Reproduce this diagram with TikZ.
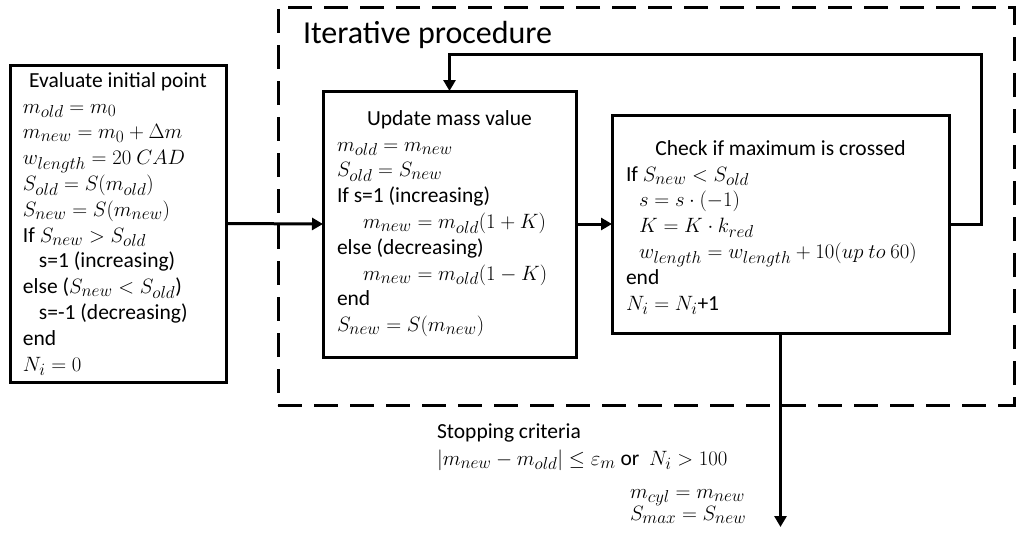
\documentclass[tikz,border=0pt]{standalone}
\usepackage{fontspec}
\setmainfont{Carlito}
\DeclareMathSizes{21.5}{22.8}{16}{12}
\usetikzlibrary{arrows.meta}
\newcommand\bodylines[1]{\vtop{\baselineskip=25.8pt\lineskiplimit=-100pt\lineskip=0pt #1}}
\newcommand\stoplines[2]{\vtop{\baselineskip=#1\lineskiplimit=-100pt\lineskip=0pt #2}}
\begin{document}
\begin{tikzpicture}[x=1pt,y=-1pt,
  every node/.style={font=\fontsize{21.5}{25.8}\selectfont, inner sep=0pt, outer sep=0pt},
  box/.style={draw, line width=3pt, rectangle},
  grp/.style={draw, line width=3pt, rectangle, dash pattern=on 24pt off 12pt},
  arr/.style={line width=3pt, -{Triangle[length=11pt,width=12pt]}},
  ttl/.style={anchor=base},
  body/.style={anchor=base west, align=left}]
\useasboundingbox (0,0) rectangle (1019,538);

% group box
\node[grp, minimum width=736pt, minimum height=398pt] (iter) at (646,206) {};
\node[anchor=base west, font=\fontsize{32}{38}\selectfont] (iterT) at (303,43) {Iterative procedure};

% boxes
\node[box, minimum width=216pt, minimum height=317pt] (init) at (118,223.5) {};
\node[box, minimum width=253pt, minimum height=266pt] (upd) at (449.5,224) {};
\node[box, minimum width=337pt, minimum height=218pt] (chk) at (780.5,224) {};

% initial box text
\node[ttl] (initT) at (118,87) {Evaluate initial point};
\node[body] (initB) at (23,113) {\bodylines{%
\hbox{$m_{old}=m_0$}%
\hbox{$m_{new}=m_0+\Delta m$}%
\hbox{$w_{length}=20\ CAD$}%
\hbox{$S_{old}=S(m_{old})$}%
\hbox{$S_{new}=S(m_{new})$}%
\hbox{If $S_{new}>S_{old}$}%
\hbox{\hspace*{16pt}s=1 (increasing)}%
\hbox{else ($S_{new}<S_{old}$)}%
\hbox{\hspace*{16pt}s=-1 (decreasing)}%
\hbox{end}%
\hbox{$N_i=0$}}};

% update box text
\node[ttl] (updT) at (449.5,125) {Update mass value};
\node[body] (updB) at (337,151) {\bodylines{%
\hbox{$m_{old}=m_{new}$}%
\hbox{$S_{old}=S_{new}$}%
\hbox{If s=1 (increasing)}%
\hbox{\hspace*{26pt}$m_{new}=m_{old}(1+K)$}%
\hbox{else (decreasing)}%
\hbox{\hspace*{26pt}$m_{new}=m_{old}(1-K)$}%
\hbox{end}%
\hbox{$S_{new}=S(m_{new})$}}};

% check box text
\node[ttl] (chkT) at (780.5,155) {Check if maximum is crossed};
\node[body] (chkB) at (626,181) {\bodylines{%
\hbox{If $S_{new}<S_{old}$}%
\hbox{\hspace*{13pt}$s=s\cdot(-1)$}%
\hbox{\hspace*{13pt}$K=K\cdot k_{red}$}%
\hbox{\hspace*{13pt}$w_{length}=w_{length}+10(up\ to\ 60)$}%
\hbox{end}%
\hbox{$N_i=N_i$+1}}};

% connectors
\draw[arr] (init.east) -- (upd.west);
\draw[arr] (upd.east) -- (chk.west);
\coordinate (fb) at (981,54);
\draw[arr] (chk.east) -| (fb) -| (upd.north);
\coordinate (stopEnd) at (780.5,527);
\draw[arr] (chk.south) -- (stopEnd);

% stopping criteria
\node[body] (stopA) at (437,438) {Stopping criteria};
\node[body] (stopF) at (437,465) {$|m_{new}-m_{old}|\le\varepsilon_m$ or\ \ $N_i>100$};
\node[body] (stopB) at (630,498) {\stoplines{22.5pt}{%
\hbox{$m_{cyl}=m_{new}$}%
\hbox{$S_{max}=S_{new}$}}};
\end{tikzpicture}
\end{document}
